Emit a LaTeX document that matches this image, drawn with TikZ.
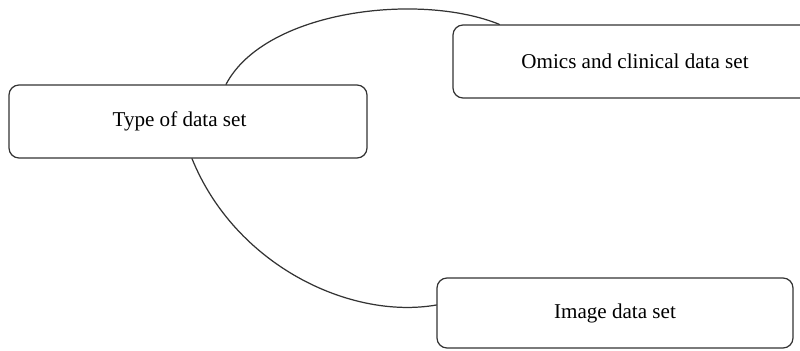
\documentclass[tikz,border=0pt]{standalone}
\usepackage{fontspec}
\setmainfont{Liberation Serif}
\begin{document}
\begin{tikzpicture}[box/.style={draw=black!80, rounded corners=2mm, line width=0.7pt, align=center, inner sep=0pt, font=\fontsize{12}{14}\selectfont}, link/.style={draw=black!80, line width=0.7pt}, line join = round, line cap = round]
      \clip (0,0) rectangle (16,7);

      \node[box, minimum width=7.16cm, minimum height=1.46cm] (type) at (3.76,4.57) {\hspace*{-0.34cm}Type of data set};
      \node[box, minimum width=7.28cm, minimum height=1.46cm] (omics) at (12.7,5.77) {Omics and clinical data set};
      \node[box, minimum width=7.12cm, minimum height=1.40cm] (image) at (12.3,0.74) {Image data set};

      \draw [link] ([xshift=0.76cm]type.north) .. controls (5.3,6.8) and (8.4,7.16) .. ([xshift=0.94cm]omics.north west);
      \draw [link] ([xshift=0.08cm]type.south) .. controls (4.7,1.7) and (7.0,0.6) .. ([yshift=0.16cm]image.west);
    \end{tikzpicture}
\end{document}
